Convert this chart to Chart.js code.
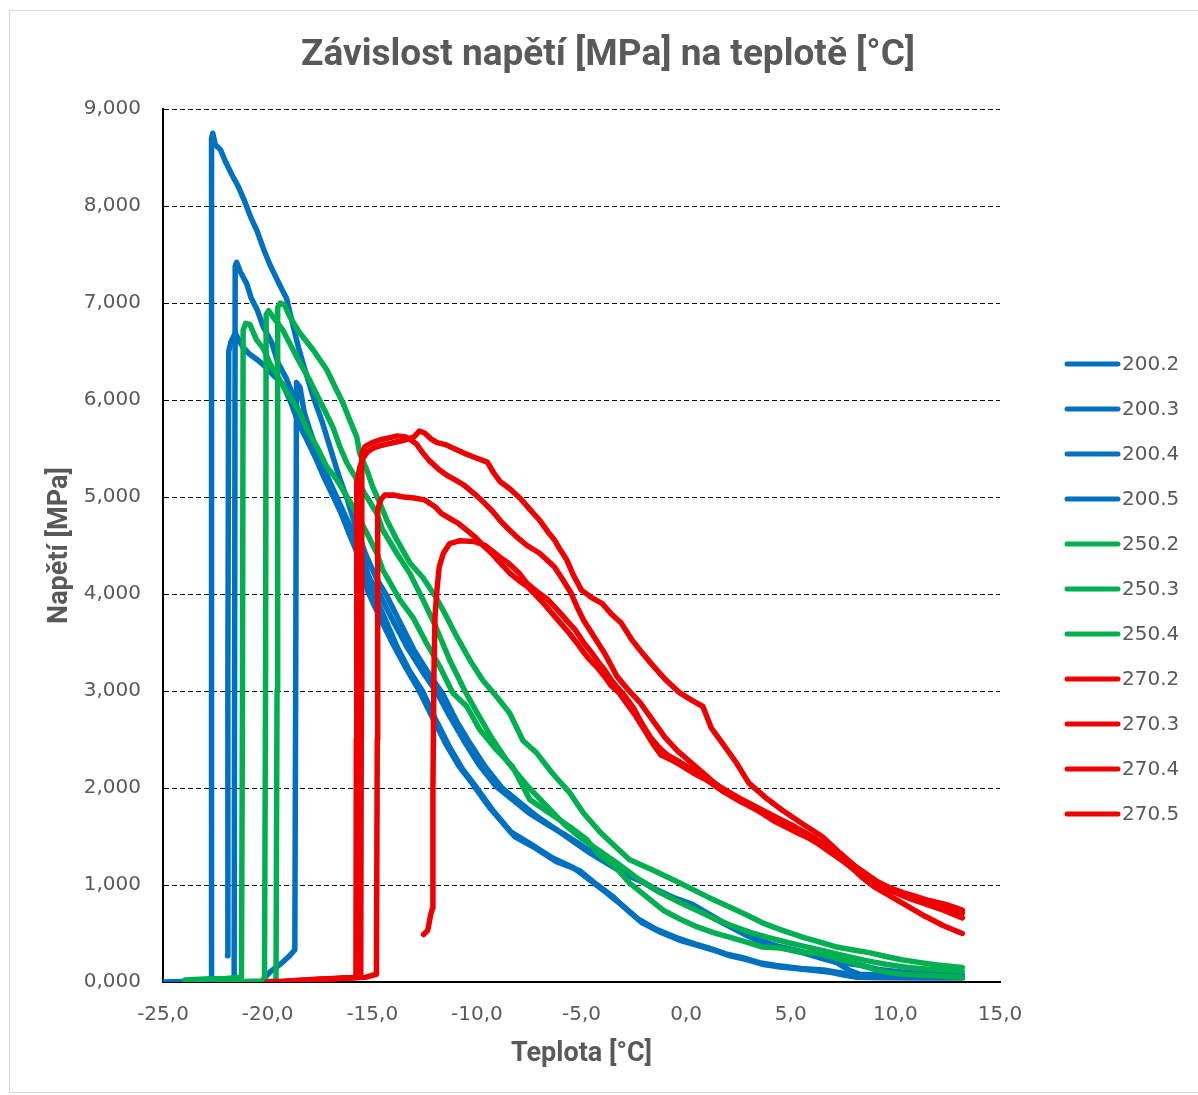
<!DOCTYPE html>
<html>
<head>
<meta charset="utf-8">
<script src="https://cdn.jsdelivr.net/npm/chart.js@4.4.1/dist/chart.umd.min.js"></script>
<style>
  html, body { margin: 0; padding: 0; background: #fff; }
  #frame { position: absolute; left: 9px; top: 10px; width: 1200px; height: 1081px; border: 1px solid #d9d9d9; }
  #wrap { position: absolute; left: 0; top: 0; width: 1198px; height: 1095px; }
</style>
</head>
<body>
<div id="frame"></div>
<div id="wrap"><canvas id="main-chart" width="1198" height="1095"></canvas></div>
<script>
const chartTitle = 'Závislost napětí [MPa] na teplotě [°C]';
const xTitle = 'Teplota [°C]';
const yTitle = 'Napětí [MPa]';
const seriesNames = ['200.2', '200.3', '200.4', '200.5', '250.2', '250.3', '250.4', '270.2', '270.3', '270.4', '270.5'];
const blue = '#0070C0', green = '#00B050', red = '#EE0000';
const seriesColors = [blue, blue, blue, blue, green, green, green, red, red, red, red];

// [teplota °C, napětí MPa]
const s2002 = [[-25.0,0.00],[-22.7,0.01],[-22.68,8.70],[-22.62,8.75],[-22.5,8.63],[-22.25,8.58],[-22.0,8.45],[-21.7,8.32],[-21.4,8.20],[-21.1,8.05],[-20.8,7.88],[-20.5,7.74],[-20.2,7.56],[-19.9,7.40],[-19.5,7.22],[-19.1,7.05],[-18.8,6.78],[-18.5,6.52],[-18.2,6.30],[-17.8,6.02],[-17.4,5.78],[-17.0,5.50],[-16.6,5.22],[-16.2,4.98],[-15.8,4.70],[-15.3,4.40],[-14.8,4.16],[-14.3,3.98],[-13.7,3.72],[-13.0,3.42],[-12.3,3.18],[-11.6,2.96],[-11.0,2.70],[-10.3,2.45],[-9.6,2.22],[-8.8,2.00],[-8.0,1.86],[-7.2,1.72],[-6.4,1.60],[-5.6,1.48],[-4.6,1.33],[-3.6,1.20],[-2.8,1.10],[-2.0,1.02],[-1.2,0.92],[-0.4,0.84],[0.5,0.77],[1.3,0.66],[2.1,0.57],[2.9,0.48],[3.7,0.40],[4.6,0.35],[5.6,0.30],[6.4,0.25],[7.2,0.20],[7.8,0.12],[8.3,0.08],[9.5,0.07],[11.0,0.06],[12.3,0.05],[13.2,0.05]];
const s2003 = [[-23.0,0.02],[-21.6,0.03],[-21.55,7.38],[-21.48,7.42],[-21.3,7.32],[-21.0,7.20],[-20.8,7.06],[-20.5,6.93],[-20.2,6.75],[-19.8,6.59],[-19.5,6.38],[-19.1,6.22],[-18.7,6.00],[-18.3,5.72],[-17.9,5.55],[-17.5,5.38],[-17.1,5.19],[-16.7,5.00],[-16.3,4.81],[-15.9,4.63],[-15.45,4.38],[-15.0,4.05],[-14.4,3.75],[-13.8,3.45],[-13.2,3.20],[-12.6,3.00],[-12.0,2.72],[-11.3,2.42],[-10.7,2.20],[-10.0,2.00],[-9.2,1.76],[-8.2,1.50],[-7.2,1.38],[-6.2,1.24],[-5.1,1.15],[-4.3,1.01],[-3.5,0.88],[-2.8,0.74],[-2.1,0.61],[-1.2,0.51],[-0.3,0.43],[0.5,0.38],[1.3,0.33],[2.1,0.27],[2.9,0.23],[3.7,0.18],[4.5,0.155],[5.7,0.13],[6.9,0.10],[7.6,0.07],[8.1,0.05],[9.5,0.045],[11.5,0.04],[13.2,0.04]];
const s2004 = [[-21.92,0.27],[-21.9,3.20],[-21.86,6.50],[-21.75,6.60],[-21.55,6.69],[-21.2,6.55],[-20.9,6.48],[-20.4,6.40],[-20.1,6.34],[-19.7,6.25],[-19.3,6.17],[-18.9,5.98],[-18.5,5.75],[-18.1,5.58],[-17.7,5.40],[-17.3,5.20],[-16.9,5.02],[-16.5,4.84],[-16.1,4.62],[-15.6,4.36],[-15.2,4.02],[-14.6,3.74],[-14.0,3.48],[-13.4,3.24],[-12.8,3.02],[-12.2,2.76],[-11.5,2.46],[-10.9,2.24],[-10.2,2.04],[-9.4,1.80],[-8.4,1.55],[-7.4,1.42],[-6.4,1.28],[-5.4,1.18],[-4.6,1.05],[-3.8,0.92],[-3.0,0.78],[-2.3,0.65],[-1.4,0.54],[-0.5,0.46],[0.3,0.40],[1.1,0.35],[1.9,0.29],[2.7,0.25],[3.5,0.20],[4.3,0.17],[5.5,0.14],[6.7,0.12],[7.5,0.09],[8.2,0.06],[10.0,0.05],[13.2,0.05]];
const s2005 = [[-20.2,0.03],[-19.9,0.10],[-19.6,0.15],[-19.3,0.20],[-19.0,0.26],[-18.7,0.33],[-18.66,3.00],[-18.62,6.18],[-18.45,6.13],[-18.25,5.87],[-18.0,5.70],[-17.6,5.45],[-17.1,5.18],[-16.6,4.90],[-16.1,4.63],[-15.6,4.38],[-15.1,4.15],[-14.6,3.98],[-14.0,3.72],[-13.3,3.44],[-12.6,3.20],[-11.9,2.98],[-11.3,2.74],[-10.6,2.48],[-9.9,2.24],[-9.1,2.02],[-8.3,1.88],[-7.5,1.74],[-6.6,1.62],[-5.8,1.52],[-4.8,1.38],[-3.8,1.24],[-3.0,1.13],[-2.2,1.05],[-1.4,0.95],[-0.6,0.87],[0.3,0.80],[1.1,0.70],[1.9,0.60],[2.7,0.51],[3.5,0.43],[4.4,0.37],[5.4,0.32],[6.2,0.27],[7.0,0.22],[7.7,0.19],[8.4,0.17],[9.2,0.13],[10.4,0.10],[11.8,0.08],[13.2,0.07]];
const s2502 = [[-23.95,0.02],[-23.0,0.03],[-22.0,0.035],[-21.25,0.05],[-21.2,3.00],[-21.17,6.72],[-21.05,6.79],[-20.85,6.78],[-20.53,6.62],[-20.2,6.53],[-19.9,6.38],[-19.4,6.20],[-18.93,6.03],[-18.46,5.87],[-18.1,5.69],[-17.65,5.52],[-17.17,5.31],[-16.7,5.18],[-16.2,5.00],[-15.74,4.83],[-15.26,4.63],[-14.78,4.42],[-14.5,4.25],[-14.1,4.10],[-13.68,3.94],[-13.06,3.76],[-12.4,3.49],[-11.77,3.25],[-11.15,2.98],[-10.48,2.84],[-9.86,2.60],[-9.05,2.39],[-8.29,2.22],[-7.47,1.88],[-6.52,1.74],[-5.56,1.60],[-4.75,1.47],[-4.2,1.32],[-3.4,1.19],[-2.7,1.02],[-1.9,0.88],[-1.1,0.74],[-0.3,0.65],[0.5,0.57],[1.3,0.51],[2.1,0.46],[2.9,0.41],[3.65,0.36],[4.5,0.35],[5.5,0.31],[6.4,0.29],[7.4,0.23],[8.4,0.17],[9.0,0.13],[9.6,0.10],[10.4,0.08],[11.2,0.07],[12.3,0.06],[13.2,0.05]];
const s2503 = [[-22.4,0.00],[-21.2,0.005],[-20.15,0.01],[-20.1,3.00],[-20.07,6.88],[-19.95,6.92],[-19.75,6.86],[-19.27,6.72],[-18.6,6.44],[-17.98,6.20],[-17.36,5.93],[-16.88,5.72],[-16.55,5.52],[-16.21,5.35],[-15.74,5.18],[-15.26,5.00],[-14.78,4.83],[-14.5,4.66],[-13.83,4.42],[-13.2,4.21],[-12.6,3.95],[-12.0,3.68],[-11.3,3.32],[-10.57,3.00],[-10.0,2.78],[-9.3,2.52],[-8.5,2.26],[-7.5,2.00],[-6.6,1.80],[-5.8,1.62],[-5.0,1.48],[-4.2,1.36],[-3.2,1.21],[-2.2,1.05],[-1.3,0.93],[-0.3,0.82],[0.6,0.73],[1.5,0.64],[2.3,0.57],[3.1,0.51],[3.9,0.46],[4.8,0.41],[5.6,0.37],[6.6,0.32],[7.6,0.27],[8.6,0.22],[9.6,0.18],[10.6,0.15],[11.8,0.13],[13.2,0.11]];
const s2504 = [[-20.3,0.00],[-19.6,0.01],[-19.55,3.00],[-19.52,6.95],[-19.4,7.00],[-19.2,6.98],[-18.94,6.86],[-18.46,6.69],[-17.84,6.52],[-17.17,6.31],[-16.7,6.10],[-16.4,5.97],[-16.07,5.79],[-15.74,5.62],[-15.6,5.45],[-15.26,5.28],[-14.97,5.10],[-14.64,4.94],[-14.3,4.76],[-13.83,4.56],[-13.2,4.32],[-12.58,4.17],[-12.0,3.98],[-11.63,3.84],[-10.96,3.56],[-10.34,3.32],[-9.72,3.11],[-9.05,2.94],[-8.43,2.77],[-7.8,2.49],[-7.14,2.36],[-6.38,2.15],[-5.56,1.95],[-4.9,1.74],[-4.13,1.55],[-3.4,1.40],[-2.7,1.26],[-1.6,1.155],[-0.3,1.02],[1.0,0.88],[2.1,0.77],[2.9,0.69],[3.65,0.61],[4.5,0.54],[5.6,0.46],[6.4,0.41],[7.2,0.36],[8.0,0.33],[8.8,0.30],[9.6,0.26],[10.3,0.23],[11.2,0.20],[12.0,0.175],[13.2,0.15]];
const s2702 = [[-20.05,0.00],[-19.0,0.01],[-18.0,0.02],[-17.0,0.03],[-16.2,0.04],[-15.78,0.05],[-15.76,2.50],[-15.74,5.15],[-15.6,5.30],[-15.45,5.40],[-15.2,5.47],[-14.9,5.51],[-14.6,5.53],[-14.2,5.55],[-13.8,5.57],[-13.4,5.59],[-13.0,5.62],[-12.75,5.68],[-12.5,5.66],[-12.2,5.60],[-11.9,5.56],[-11.5,5.54],[-11.1,5.50],[-10.6,5.45],[-10.0,5.40],[-9.5,5.36],[-9.2,5.25],[-8.9,5.16],[-8.4,5.08],[-7.9,4.98],[-7.5,4.88],[-7.0,4.76],[-6.6,4.64],[-6.3,4.56],[-6.0,4.45],[-5.7,4.35],[-5.4,4.20],[-5.0,4.04],[-4.5,3.96],[-4.0,3.90],[-3.6,3.80],[-3.1,3.70],[-2.6,3.53],[-2.2,3.42],[-1.7,3.29],[-1.0,3.12],[-0.3,2.98],[0.3,2.90],[0.8,2.84],[1.2,2.62],[1.74,2.46],[2.4,2.26],[3.0,2.05],[3.8,1.90],[4.6,1.77],[5.5,1.64],[6.5,1.50],[7.3,1.34],[8.1,1.19],[9.1,1.04],[10.2,0.92],[11.0,0.86],[11.8,0.81],[12.5,0.76],[13.2,0.71]];
const s2703 = [[-19.0,0.01],[-17.5,0.03],[-16.0,0.04],[-15.55,0.05],[-15.52,3.00],[-15.5,5.45],[-15.35,5.52],[-15.0,5.56],[-14.6,5.59],[-14.2,5.61],[-13.8,5.63],[-13.4,5.62],[-13.1,5.58],[-12.9,5.55],[-12.6,5.46],[-12.3,5.38],[-11.8,5.28],[-11.4,5.22],[-10.9,5.16],[-10.6,5.12],[-10.1,5.03],[-9.6,4.93],[-9.2,4.84],[-8.9,4.76],[-8.5,4.67],[-8.1,4.59],[-7.6,4.50],[-7.0,4.42],[-6.6,4.34],[-6.3,4.28],[-5.9,4.15],[-5.5,4.01],[-5.2,3.86],[-4.9,3.73],[-4.4,3.56],[-3.9,3.39],[-3.3,3.15],[-2.8,3.02],[-2.2,2.88],[-1.6,2.70],[-1.0,2.52],[-0.4,2.38],[0.3,2.25],[1.0,2.12],[1.6,2.00],[2.4,1.90],[3.2,1.80],[4.2,1.66],[5.2,1.55],[6.2,1.45],[7.2,1.30],[8.0,1.16],[8.8,1.05],[9.6,0.98],[10.4,0.92],[11.0,0.88],[11.6,0.84],[12.4,0.80],[13.2,0.74]];
const s2704 = [[-18.0,0.02],[-16.5,0.04],[-15.3,0.05],[-14.8,0.08],[-14.76,2.50],[-14.74,4.87],[-14.6,4.97],[-14.4,5.02],[-14.0,5.02],[-13.5,5.00],[-13.0,4.99],[-12.5,4.97],[-12.0,4.90],[-11.7,4.83],[-11.3,4.78],[-10.9,4.73],[-10.5,4.66],[-10.1,4.59],[-9.7,4.50],[-9.3,4.42],[-8.8,4.30],[-8.4,4.21],[-8.0,4.14],[-7.6,4.08],[-7.2,3.99],[-6.8,3.90],[-6.4,3.80],[-6.0,3.70],[-5.6,3.60],[-5.2,3.49],[-4.9,3.40],[-4.6,3.32],[-4.2,3.23],[-3.9,3.15],[-3.6,3.06],[-3.2,2.98],[-2.8,2.86],[-2.4,2.74],[-2.0,2.60],[-1.6,2.46],[-1.2,2.34],[-0.8,2.30],[-0.3,2.24],[0.3,2.16],[1.0,2.08],[1.8,1.96],[2.6,1.86],[3.5,1.76],[4.4,1.66],[5.3,1.56],[6.2,1.44],[7.0,1.32],[7.8,1.20],[8.4,1.08],[9.0,0.98],[9.8,0.88],[10.6,0.78],[11.4,0.68],[12.3,0.58],[13.2,0.50]];
const s2705 = [[-12.55,0.49],[-12.35,0.53],[-12.2,0.70],[-12.12,0.76],[-12.1,2.00],[-12.05,3.20],[-12.0,3.77],[-11.9,4.06],[-11.8,4.28],[-11.6,4.42],[-11.3,4.52],[-10.8,4.55],[-10.1,4.54],[-9.6,4.50],[-9.3,4.45],[-8.9,4.38],[-8.5,4.32],[-8.0,4.22],[-7.6,4.11],[-7.1,4.02],[-6.6,3.94],[-6.3,3.87],[-6.0,3.80],[-5.6,3.70],[-5.3,3.63],[-4.9,3.50],[-4.5,3.39],[-4.2,3.30],[-3.9,3.22],[-3.6,3.12],[-3.3,3.04],[-2.9,2.94],[-2.5,2.82],[-2.1,2.66],[-1.7,2.52],[-1.3,2.42],[-0.9,2.34],[-0.4,2.28],[0.2,2.20],[0.9,2.12],[1.7,2.00],[2.5,1.90],[3.4,1.80],[4.3,1.70],[5.2,1.60],[6.1,1.49],[6.9,1.37],[7.7,1.25],[8.4,1.13],[9.1,1.02],[9.9,0.93],[10.7,0.86],[11.5,0.80],[12.3,0.74],[13.2,0.66]];

const seriesData = [s2002, s2003, s2004, s2005, s2502, s2503, s2504, s2702, s2703, s2704, s2705];

const tickFont = {family: '"DejaVu Sans", sans-serif', size: 20};
const titleFont = {family: 'Roboto, sans-serif', size: 27, weight: 'bold'};

// nadpis a legenda jako v Excelu
const excelDecor = {
    id: 'excelDecor',
    afterDraw(chart) {
        const ctx = chart.ctx;
        ctx.save();
        ctx.fillStyle = '#595959';
        ctx.font = 'bold 37px Roboto, sans-serif';
        ctx.textAlign = 'center';
        ctx.textBaseline = 'middle';
        ctx.fillText(chartTitle, 608, 56);
        ctx.font = '20px "DejaVu Sans", sans-serif';
        ctx.textAlign = 'left';
        chart.data.datasets.forEach((ds, i) => {
            const y = 364 + i * 45;
            ctx.strokeStyle = ds.borderColor;
            ctx.lineWidth = 5;
            ctx.lineCap = 'round';
            ctx.beginPath();
            ctx.moveTo(1067, y);
            ctx.lineTo(1118, y);
            ctx.stroke();
            ctx.fillText(ds.label, 1122, y + 1);
        });
        ctx.restore();
    }
};

function createChart() {
    const ctx = document.getElementById('main-chart').getContext('2d');
    const datasets = seriesData.map((pts, i) => ({
        label: seriesNames[i],
        data: pts.map(p => ({x: p[0], y: p[1]})),
        borderColor: seriesColors[i],
        backgroundColor: seriesColors[i],
        borderWidth: 5.5,
        borderJoinStyle: 'round',
        borderCapStyle: 'round',
        showLine: true,
        pointRadius: 0,
        fill: false,
        tension: 0,
        order: seriesColors[i] === red ? 0 : (seriesColors[i] === green ? 1 : 2)
    }));
    new Chart(ctx, {
        type: 'scatter',
        data: {datasets: datasets},
        plugins: [excelDecor],
        options: {
            responsive: false,
            animation: false,
            layout: {padding: {left: 0, right: 198, top: 109, bottom: 0}},
            plugins: {
                legend: {display: false},
                title: {display: false},
                tooltip: {enabled: false}
            },
            scales: {
                x: {
                    type: 'linear',
                    min: -25,
                    max: 15,
                    ticks: {
                        stepSize: 5,
                        padding: 13,
                        color: '#595959',
                        font: tickFont,
                        callback: v => v.toFixed(1).replace('.', ',')
                    },
                    grid: {display: false},
                    border: {display: true, color: '#000', width: 2},
                    title: {display: true, text: xTitle, color: '#595959', font: titleFont, padding: {top: 0, bottom: 25}},
                    afterFit: s => { s.height = 113; }
                },
                y: {
                    type: 'linear',
                    min: 0,
                    max: 9,
                    ticks: {
                        stepSize: 1,
                        padding: 22,
                        color: '#595959',
                        font: tickFont,
                        callback: v => v.toFixed(3).replace('.', ',')
                    },
                    grid: {color: '#000', lineWidth: 1, drawTicks: false},
                    border: {display: true, color: '#000', width: 2, dash: [5, 3]},
                    title: {display: true, text: yTitle, color: '#595959', font: titleFont, padding: {top: 44, bottom: 0}},
                    afterFit: s => { s.width = 163; }
                }
            }
        }
    });
}

createChart();
</script>
</body>
</html>
